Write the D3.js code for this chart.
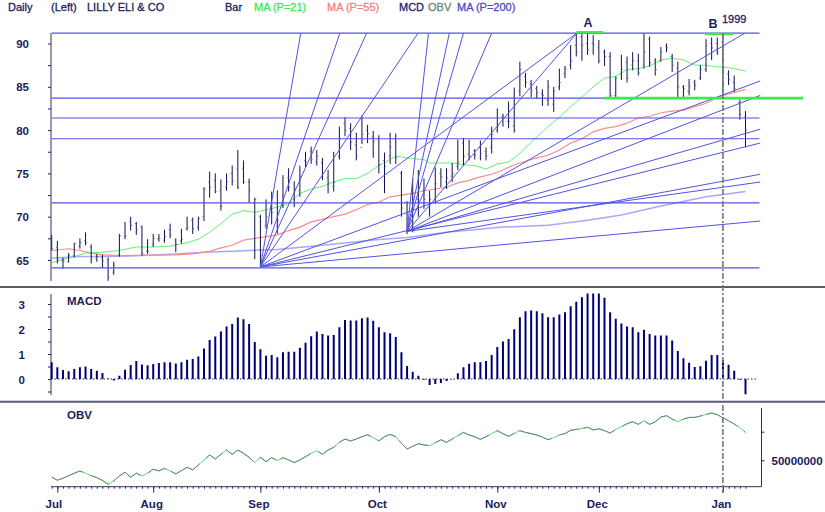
<!DOCTYPE html>
<html>
<head>
<meta charset="utf-8">
<script src="https://cdn.jsdelivr.net/npm/d3@7"></script>
<style>
  body { margin: 0; background: #fff; }
  svg { display: block; }
  text { font-family: "Liberation Sans", Arial, sans-serif; fill: #1c1c5c; }
  .label { font-size: 11.5px; font-weight: bold; }
  .head { font-size: 11px; stroke-width: 0.3px; }
  .axis path { display: none; }
  .axis line { stroke: #202060; }
</style>
</head>
<body>
<div id="chart"></div>
<script>
// Config
var WIDTH = 825;
var HEIGHT = 512;
var NAVY = '#101050';
var FAN = '#5252e6';
var GREEN = '#3fe84f';

// Price bars, one entry per trading day
var highs = [67.9,67.2,65.3,65.8,67,67.5,68.2,66.8,65.7,65.6,65.3,64.8,68,69.4,70,69.4,69,67.4,68,68,68.5,69.2,67.5,68.6,70,69.9,70,73.4,75.2,75,74.3,75,75.9,77.7,76.5,74.4,72.2,70.2,72,72.9,
  73.05,74.8,75.6,74.1,75.9,77.5,78.1,77.7,76.8,75.4,77.5,80.4,81.5,80.8,79.7,81.7,80.6,79.9,79.4,77.4,79.7,79.6,75.3,71.8,74.4,75.4,74.4,73,75.7,75.6,75.6,76.2,78.9,79.1,78.9,77.8,78.8,78,80.4,82.5,81.9,83.3,84.9,87.9,86.6,85.8,85.1,84.7,85.8,
  85,87.1,87.4,89.8,91.2,91.2,91.2,91,90.4,89.3,89,86.2,88.7,88.5,89,88.8,91.2,90.8,88.3,89.6,90,88.8,87.9,85.2,85.9,85.8,87.5,90.5,90.7,90.7,91,86.9,86.3,83.5,82.2];
var lows = [66.1,64.6,64,64.7,65.3,66.3,66.7,64.6,64.8,64.1,62.6,63.3,65.4,67.4,68.4,67.9,65.5,65.7,66.5,67.1,67,67.5,65.9,66.9,68.4,68,68.4,69.5,72.2,72.7,70.7,73,73.6,73.2,73.8,71.6,65.1,64.2,68.6,69.1,
  68.04,71,72.9,71.1,72.3,75.7,76.1,75.9,74.2,72.7,72.9,76.6,79.3,77.7,76.5,78.4,78.5,76.8,75,72.7,76.1,76.1,70,68,68.2,70,70.9,70,71.5,73.4,73.2,74,75.4,75.9,76.5,76.6,76.5,76.5,77.3,79.7,80.4,80.2,79.7,83.9,84.9,83.8,83.6,82.8,82.8,
  82.1,84.6,86,87,88.5,88,88.7,88.7,87.7,87.4,83.6,83.6,85.8,85.5,86.9,86.3,87.1,87.3,86.3,87.9,89,86.7,83.8,83.6,84,84.6,85.8,86.7,88.1,88.7,84,85.2,84.4,81.2,78];
var opens = [67.5,66.5,65,64.8,65.5,66.6,67.2,66.5,65.2,65.3,65,63.6,65.6,67.7,69.4,69.2,68.8,66,66.8,67.4,67.3,68.5,67.3,67.2,68.6,69.6,68.8,70,74,74.2,73,73.4,75,75.5,75.6,74,71.5,70,69,71,
  71.5,71.5,74.5,72,73,76.5,77.5,76.3,76.2,74.5,73.5,77,80.8,80.2,78.3,78,80,79.2,79,76.5,77,79,75,70.5,69,72,73,71,72,75,74,74.7,75.8,78.5,77.2,77.6,78,77.5,78,80,81.5,81,80.5,84.5,86.2,85.3,84.8,84.2,83.5,
  83,85,86.5,87.5,89.8,90.8,90,90,89.5,89,88.5,84,86.5,87.8,87.5,88,87.5,90.5,88,88,89.7,88.5,87.2,85,84.5,85.5,86,87,90,90,90.2,86.5,85.5,83.2,81.5];
var closes = [66.3,65,64.9,65.5,66.9,67,67,65.2,65.4,64.9,63,64.4,67.8,67.8,69,68.5,65.8,66,67.5,67.5,67.7,67.9,66.8,67.4,68.8,68.6,69.8,73.2,73.4,72.9,71.2,74,74.1,73.4,74,73,72,65.5,70,70.5,
  69.5,72.5,73.4,73.3,74.6,76.3,76.6,77,75,74,74,79,80,78.6,77,79.5,79.6,78.7,76,75.8,78,76.8,71,69,72,71.5,72,72,73.8,74.6,74.5,75,76.3,77,77,77.1,77.3,77,79.5,80.5,81.5,81,80,87,85.5,84.6,84.3,84,85,
  84.5,85.5,87,88,89,89.8,89.3,89.8,88,88.5,84,86,87,86,88,86.6,89,87.8,87,89,89.5,87.5,85,84.8,85,85.2,87,89.8,89.5,88.9,87.2,85.8,84.8,81.8,80];

// Moving averages, read at the marked days
var ma21Days = [0,3,6,9,12,15,18,21,24,26,28,30,32,34,36,38,40,42,44,46,48,50,52,54,56,58,60,61,62,64,66,67,69,71,73,75,77,79,81,83,85,87,88,90,92,94,96,98,100,102,104,106,108,110,112,114,116,118,119,121,123];
var ma21Values = [64.7,65.2,65.8,65.9,66.1,66.5,66.5,66.6,67,67.4,68.2,69.2,70.3,70.7,70.5,70.8,71.1,71.5,72.7,73.2,73.5,74,74.4,74.4,75,75.9,76.6,77,76.9,76.7,76.6,76.2,76.2,76.2,76,75.9,75.5,76.1,76.3,77.3,78.6,79.8,80.4,81.5,82.7,83.8,85,86,86.2,87,87.1,87.4,88.1,88.3,88.1,87.5,87.5,87.3,87.3,87.1,86.8];
var ma55Days = [0,3,5,7,9,12,22,25,28,30,32,34,36,38,40,42,44,46,48,50,52,54,56,58,60,62,64,66,68,70,72,74,76,78,80,82,84,86,88,90,92,94,96,98,100,102,104,106,108,110,112,116,118,123];
var ma55Values = [66.1,66.3,66.1,65.8,65.6,65.5,65.6,65.7,66,66.4,66.7,67.3,67.5,67.7,67.9,68.4,68.8,69.4,69.7,70,70.3,70.8,71.4,71.7,72.3,72.5,72.7,73,73.2,73.4,73.9,74.2,74.6,74.9,75.4,76,76.4,76.8,77.1,77.7,78.5,79,79.8,80.2,80.4,80.8,81.4,81.6,82,82.2,82.3,83.1,83.8,84.7];
var ma200Days = [0,5,9,15,22,27,32,35,40,48,57,63,70,80,88,95,101,107,116,123];
var ma200Values = [65.2,65.4,65.4,65.5,65.7,65.9,66,66.1,66.2,66.7,67.3,67.6,68.2,68.8,69,69.6,70.2,71.1,72.3,72.9];

var macd = [.67,.47,.36,.31,.4,.47,.5,.4,.33,.24,.02,-.06,.13,.37,.56,.72,.58,.55,.6,.64,.67,.67,.62,.67,.77,.8,.9,1.22,1.56,1.7,1.9,2.1,2.2,2.46,2.39,2.2,1.48,1.19,.93,.96,.87,1.07,1.09,1.09,1.25,1.45,1.71,1.9,1.8,1.74,1.76,2.07,2.36,2.34,2.34,2.43,2.46,2.33,2.07,1.87,1.83,1.68,
  1.07,.52,.29,.13,-.03,-.24,-.2,-.16,-.08,-.01,.23,.47,.61,.67,.67,.72,.96,1.28,1.5,1.6,1.99,2.47,2.71,2.74,2.71,2.63,2.47,2.47,2.58,2.67,2.91,3.09,3.27,3.42,3.42,3.42,3.25,2.67,2.41,2.22,2.1,2.07,1.87,1.97,1.8,1.74,1.74,1.74,1.54,1.12,.83,.65,.48,.51,.73,.96,.96,.76,.57,.33,-.03,-.61];

// On balance volume, millions of shares
var obv = [35.2,32.6,34.3,36.6,38.7,40.7,38.7,36.6,34.9,32.3,29.1,32,36.3,39.5,35.2,38.7,36.3,38.7,42.2,40.7,43,40.7,38.1,41,43.9,41.6,45.9,50.3,54.7,51.2,55.2,59,55.2,59,56.1,52.6,48,52.6,48.8,52.3,49.7,52.3,50.3,48,50.3,53.2,56.1,58.4,55.2,59,61.3,65.7,68.6,66.9,68.6,70.6,72.4,69.8,66.9,70.6,72.7,70.6,
  64.8,59.9,62.2,64.5,63.4,62.8,65.4,68,65.7,68.6,71.5,74.4,72.1,70.6,68.3,70.6,73.3,75.9,73.3,70.9,73.5,75.9,74.4,73.3,72.1,70.3,68,69.8,72.1,73.3,76.2,77,77.9,78.8,76.5,77.6,75.9,73.8,77,79.4,82,83.7,81.4,84.6,81.4,83.7,87.8,89,86,83.7,86,87.5,87.5,88.7,90.1,91.3,89.8,87.2,84.6,81.7,78.5,74.4];

// Month ticks
var monthDays = [1,18,37,58,79,97,119];
var monthNames = ['Jul','Aug','Sep','Oct','Nov','Dec','Jan'];

// Retracement levels and the two fans
var levels = [91.2,83.7,81.4,79,71.6,64.1];
var fan1Days = [44.15,51.1,55.85,64.95,93.1,125.6,125.6,125.6,125.6];
var fan1Prices = [91.2,91.2,91.2,91.2,91.2,85.67,78.5,74.9,69.5];
var fan2Days = [66.8,70.5,73,78,93.1,122.9,125.6,125.6,125.6];
var fan2Prices = [91.2,91.2,91.2,91.2,91.2,91.2,84,80.1,74];

// Scales
var xScale = d3.scaleLinear().domain([0, highs.length - 1]).range([51.7, 745.5]);
var yPrice = d3.scaleLinear().domain([65, 90]).range([260, 43.5]);
var yMacd = d3.scaleLinear().domain([0, 3]).range([379, 304]);
var yObv = d3.scaleLinear().domain([50, 75]).range([460.3, 431.7]);

var svg = d3.select('#chart').append('svg').attr('width', WIDTH).attr('height', HEIGHT);

function priceLine(days, values, color, width) {
  var line = d3.line()
    .x(function(d, i) { return xScale(days[i]); })
    .y(function(d) { return yPrice(d); });
  svg.append('path').datum(values)
    .attr('d', line).attr('fill', 'none')
    .attr('stroke', color).attr('stroke-width', width);
}

function seg(x1, y1, x2, y2, color, width) {
  return svg.append('line')
    .attr('x1', x1).attr('y1', y1).attr('x2', x2).attr('y2', y2)
    .attr('stroke', color).attr('stroke-width', width);
}

// Header
var header = [
  ['Daily', 8, '#1c1c5c'], ['(Left)', 51, '#1c1c5c'], ['LILLY ELI & CO', 87, '#1c1c5c'],
  ['Bar', 225, '#1c1c5c'], ['MA (P=21)', 254, '#40e850'], ['MA (P=55)', 327, '#f48080'],
  ['MCD', 399, '#1c1c70'], ['OBV', 428, '#6c8870'], ['MA (P=200)', 457, '#4c4cc8']
];
svg.selectAll('.head').data(header).enter().append('text')
  .attr('class', 'head')
  .attr('x', function(d) { return d[1]; }).attr('y', 11)
  .style('fill', function(d) { return d[2]; }).style('stroke', function(d) { return d[2]; })
  .text(function(d) { return d[0]; });

// Moving averages first, everything else lies over them
priceLine(ma200Days, ma200Values, '#a8a8fa', 1.5);
priceLine(ma55Days, ma55Values, '#fb8c8c', 1.2);
priceLine(ma21Days, ma21Values, '#52f062', 0.9);

// Price bars
highs.forEach(function(h, i) {
  var x = xScale(i);
  seg(x, yPrice(h), x, yPrice(lows[i]), NAVY, 1);
  seg(x - 1.5, yPrice(opens[i]), x, yPrice(opens[i]), '#55557f', 0.8);
  seg(x, yPrice(closes[i]), x + 1.5, yPrice(closes[i]), '#55557f', 0.8);
});

// Levels
levels.forEach(function(p) {
  seg(51.7, yPrice(p), 759.5, yPrice(p), FAN, 1.2);
});

// Fans
fan1Days.forEach(function(d, i) {
  seg(xScale(37), yPrice(64.2), xScale(d), yPrice(fan1Prices[i]), FAN, 1);
});
fan2Days.forEach(function(d, i) {
  seg(xScale(63), yPrice(68.3), xScale(d), yPrice(fan2Prices[i]), FAN, 1);
});

// Green marks at A, B and the support
seg(xScale(93), yPrice(91.3), xScale(97.8), yPrice(91.3), GREEN, 2.4);
seg(xScale(115.8), yPrice(91.1), xScale(120.8), yPrice(91.1), GREEN, 2.4);
seg(xScale(97.8), yPrice(83.7), 803, yPrice(83.7), GREEN, 2.8);

// Price axis
var priceAxis = d3.axisLeft(yPrice)
  .tickValues(d3.range(65, 90.5, 2.5))
  .tickSize(3)
  .tickFormat(function(d) { return d % 5 === 0 ? d : ''; });
var gPrice = svg.append('g').attr('class', 'axis').attr('transform', 'translate(51,0)').call(priceAxis);
gPrice.selectAll('text').attr('class', 'label').attr('x', -22).attr('dy', '0.36em');
seg(51, 33, 51, 281, '#303060', 1);

// Panel dividers
seg(0, 287, WIDTH, 287, '#585e68', 2);
seg(0, 401.7, WIDTH, 401.7, '#585e78', 2);

// MACD panel
var macdAxis = d3.axisLeft(yMacd)
  .tickValues(d3.range(-0.5, 3.5, 0.5))
  .tickSize(3)
  .tickFormat(function(d) { return d % 1 === 0 && d >= 0 ? d : ''; });
var gMacd = svg.append('g').attr('class', 'axis').attr('transform', 'translate(51,0)').call(macdAxis);
gMacd.selectAll('text').attr('class', 'label').attr('x', -26).attr('dy', '0.36em');
seg(51, 294, 51, 395, '#303060', 1);
seg(51, yMacd(0), 758, yMacd(0), '#202080', 1).attr('stroke-dasharray', '1.5 2');
svg.selectAll('.macd').data(macd).enter().append('rect')
  .attr('class', 'macd')
  .attr('x', function(d, i) { return xScale(i) - 1; })
  .attr('y', function(d) { return Math.min(yMacd(d), yMacd(0)); })
  .attr('width', 2)
  .attr('height', function(d) { return Math.abs(yMacd(d) - yMacd(0)); })
  .attr('fill', '#000078');
svg.append('text').attr('class', 'label').attr('x', 67).attr('y', 305).text('MACD');

// OBV panel
var obvLine = d3.line()
  .x(function(d, i) { return xScale(i); })
  .y(function(d) { return yObv(d); });
svg.append('path').datum(obv).attr('d', obvLine).attr('fill', 'none')
  .attr('stroke', '#4ee860').attr('stroke-width', 1);
svg.append('path').datum(obv).attr('d', obvLine).attr('fill', 'none')
  .attr('stroke', '#767c84').attr('stroke-width', 1).attr('stroke-dasharray', '34 8 21 5');
svg.append('text').attr('class', 'label').attr('x', 67).attr('y', 419).text('OBV');

var obvAxis = d3.axisRight(yObv).tickValues([50, 75]).tickSize(3)
  .tickFormat(function(d) { return d === 50 ? '50000000' : ''; });
var gObv = svg.append('g').attr('class', 'axis').attr('transform', 'translate(761.5,0)').call(obvAxis);
gObv.selectAll('text').attr('class', 'label').attr('x', 10).attr('dy', '0.36em');
seg(761.5, 408, 761.5, 486.7, '#303060', 1);

// Date axis
var dayAxis = d3.axisBottom(xScale).tickValues(d3.range(0, highs.length)).tickSize(2).tickFormat('');
svg.append('g').attr('class', 'axis').attr('transform', 'translate(0,486.7)').call(dayAxis);
var monthAxis = d3.axisBottom(xScale).tickValues(monthDays).tickSize(6)
  .tickFormat(function(d, i) { return monthNames[i]; });
var gMonth = svg.append('g').attr('class', 'axis').attr('transform', 'translate(0,486.7)').call(monthAxis);
gMonth.selectAll('text').attr('class', 'label').attr('y', 13).attr('dy', '0.71em')
  .attr('dx', function(d, i) { return i === 0 ? -4 : -2; });
seg(51, 486.7, 761.5, 486.7, '#303060', 1);

// 1999 marker
seg(xScale(119), 33, xScale(119), 493, '#6e7a6e', 1.6).attr('stroke-dasharray', '6 2 2 2');

// Annotations
svg.append('text').attr('class', 'label').attr('x', 588).attr('y', 27).attr('text-anchor', 'middle').style('font-size', '12.5px').text('A');
svg.append('text').attr('class', 'label').attr('x', 713).attr('y', 28).attr('text-anchor', 'middle').style('font-size', '12.5px').text('B');
svg.append('text').attr('class', 'head').attr('x', 722).attr('y', 23).style('stroke', '#1c1c5c').text('1999');
</script>
</body>
</html>
